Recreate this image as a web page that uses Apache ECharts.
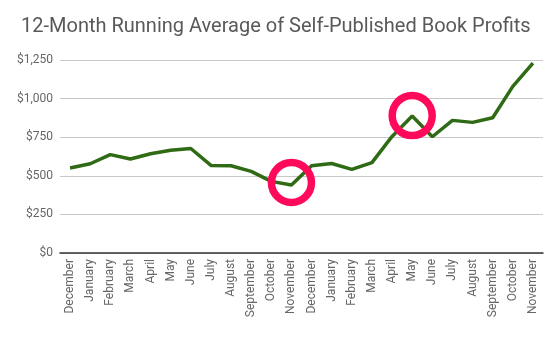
<!DOCTYPE html>
<html><head><meta charset="utf-8">
<script src="https://cdn.jsdelivr.net/npm/echarts@6/dist/echarts.min.js"></script>
<style>html,body{margin:0;padding:0;background:#fff}#c{width:560px;height:346px}</style>
</head><body><div id="c"></div>
<script>
const categories = ['December','January','February','March','April','May','June','July','August','September','October','November','December','January','February','March','April','May','June','July','August','September','October','November'];
const profits = [550,578,637,609,643,665,677,567,565,529,464,440,565,580,542,585,755,887,753,859,846,876,1079,1230];
const highlightIdx = [11,17];
const highlightVals = [457,890];
const yTicks = [0,250,500,750,1000,1250];

const chart = echarts.init(document.getElementById('c'));
chart.setOption({
  animation:false,
  backgroundColor:'#fff',
  title:{text:'12-Month Running Average of Self-Published Book Profits',left:16,top:12,
    textStyle:{fontFamily:'Roboto',fontSize:20,fontWeight:'normal',color:'#595959'}},
  grid:{left:60,right:17,top:60,bottom:93,containLabel:false},
  xAxis:{type:'category',data:categories,boundaryGap:true,
    axisLine:{lineStyle:{color:'#333',width:1.5}},axisTick:{show:false},
    axisLabel:{rotate:90,interval:0,fontFamily:'Roboto',fontSize:12,color:'#666',margin:6}},
  yAxis:{type:'value',min:yTicks[0],max:yTicks[yTicks.length-1],interval:250,
    axisLine:{show:false},axisTick:{show:false},
    splitLine:{lineStyle:{color:'#c8c8c8',width:1}},
    axisLabel:{fontFamily:'Roboto',fontSize:12,color:'#666',margin:7,
      formatter:v=>'$'+v.toLocaleString('en-US')}},
  series:[
    {type:'line',data:profits,symbol:'none',lineStyle:{color:'#2f6a14',width:3.5},z:2},
    {type:'scatter',data:highlightIdx.map((i,k)=>[i,highlightVals[k]]),symbol:'circle',symbolSize:40,
      itemStyle:{color:'transparent',borderColor:'#ff0a5a',borderWidth:7.5,opacity:1},z:3}
  ]
});
</script></body></html>
